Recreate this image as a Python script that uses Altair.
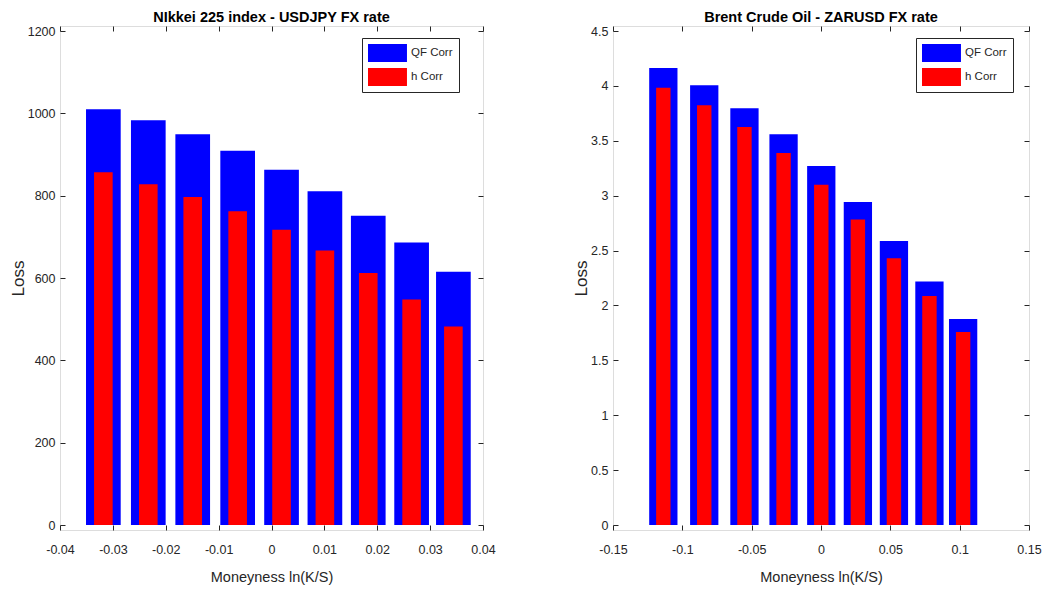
import altair as alt
import pandas as pd

# ---------------- data ----------------
series_names = ["QF Corr", "h Corr"]
series_colors = ["#0000ff", "#ff0000"]

# Nikkei 225 index - USDJPY FX rate
nk_moneyness = [-0.0318, -0.0233, -0.0149, -0.0064, 0.0019, 0.0101, 0.0183, 0.0265, 0.0344]
nk_qf = [1010, 983, 949, 909, 863, 811, 751, 686, 615]
nk_h = [857, 828, 797, 762, 717, 667, 612, 548, 482]
nk_xticks = [-0.04, -0.03, -0.02, -0.01, 0, 0.01, 0.02, 0.03, 0.04]
nk_yticks = [0, 200, 400, 600, 800, 1000, 1200]

# Brent Crude Oil - ZARUSD FX rate
br_moneyness = [-0.1137, -0.0842, -0.0552, -0.0270, 0.0002, 0.0266, 0.0526, 0.0782, 0.1025]
br_qf = [4.164, 4.006, 3.796, 3.559, 3.271, 2.942, 2.587, 2.219, 1.876]
br_h = [3.982, 3.824, 3.626, 3.389, 3.100, 2.784, 2.429, 2.085, 1.757]
br_xticks = [-0.15, -0.1, -0.05, 0, 0.05, 0.1, 0.15]
br_yticks = [0, 0.5, 1, 1.5, 2, 2.5, 3, 3.5, 4, 4.5]

FONT = "Liberation Sans, Arial, sans-serif"
INK = "#262626"
SWATCH = "M-1,-1H3.33V1H-1Z"


def tick_axis(orient, values):
    return alt.Axis(orient=orient, offset=-5, values=values, labels=False, domain=False,
                    grid=False, tickSize=5, tickColor=INK, title=None, minExtent=0,
                    maxExtent=10)


def panel(title, xs, qf, h, xticks, yticks, hw_blue, hw_red, width, height, legend_x):
    rows = []
    for x, v in zip(xs, qf):
        rows.append({"m": x, "loss": v, "series": series_names[0], "k": 0})
    for x, v in zip(xs, h):
        rows.append({"m": x, "loss": v, "series": series_names[1], "k": 1})
    df = pd.DataFrame(rows)

    xscale = alt.Scale(domain=[xticks[0], xticks[-1]], nice=False, zero=False)
    yscale = alt.Scale(domain=[yticks[0], yticks[-1]], nice=False)

    base = alt.Chart(df).transform_calculate(
        hw=f"datum.k == 0 ? {hw_blue} : {hw_red}"
    ).transform_calculate(
        lo="datum.m - datum.hw", hi="datum.m + datum.hw"
    )

    bars = base.mark_bar(opacity=1).encode(
        x=alt.X("lo:Q", scale=xscale,
                axis=alt.Axis(orient="bottom", values=xticks, labelExpr="'' + datum.value",
                              ticks=False, domain=False, grid=False, labelPadding=13,
                              labelFont=FONT, labelFontSize=12.5, labelColor=INK,
                              labelFlush=False, minExtent=0,
                              title="Moneyness ln(K/S)", titleFont=FONT, titleFontSize=14.5,
                              titleFontWeight="normal", titleColor=INK, titlePadding=15)),
        x2="hi:Q",
        y=alt.Y("loss:Q", scale=yscale, stack=None,
                axis=alt.Axis(orient="left", values=yticks, labelExpr="'' + datum.value",
                              ticks=False, domain=False, grid=False, labelPadding=5,
                              labelFont=FONT, labelFontSize=12.5, labelColor=INK,
                              labelFlush=False, minExtent=0,
                              title="Loss", titleFont=FONT, titleFontSize=17,
                              titleFontWeight="normal", titleColor=INK, titlePadding=0)),
        y2=alt.datum(0),
        color=alt.Color("series:N", scale=alt.Scale(domain=series_names, range=series_colors),
                        legend=alt.Legend(orient="none", legendX=legend_x, legendY=12, title=None,
                                          symbolType=SWATCH, symbolSize=324, symbolStrokeWidth=0,
                                          symbolOpacity=1,
                                          labelFont=FONT, labelFontSize=11.5, labelColor=INK,
                                          labelOffset=25, rowPadding=6, padding=6,
                                          strokeColor=INK, fillColor="white")),
        order=alt.Order("k:Q"),
    )

    ticks_bl = base.mark_bar(opacity=0).encode(
        x=alt.X("lo:Q", scale=xscale, axis=tick_axis("bottom", xticks)),
        x2="hi:Q",
        y=alt.Y("loss:Q", scale=yscale, stack=None, axis=tick_axis("left", yticks)),
    )

    ticks_tr = base.mark_bar(opacity=0).encode(
        x=alt.X("lo:Q", scale=xscale, axis=tick_axis("top", xticks)),
        x2="hi:Q",
        y=alt.Y("loss:Q", scale=yscale, stack=None, axis=tick_axis("right", yticks)),
    )

    return alt.layer(bars, ticks_bl, ticks_tr).resolve_axis(
        x="independent", y="independent"
    ).properties(
        width=width, height=height,
        title=alt.TitleParams(title, font=FONT, fontSize=14.5, fontWeight="bold",
                              color="#000000", anchor="middle", frame="group",
                              baseline="alphabetic", offset=-11),
    )


left = panel("NIkkei 225 index - USDJPY FX rate", nk_moneyness, nk_qf, nk_h,
             nk_xticks, nk_yticks, 0.00328, 0.00176, 423, 504, 302)
right = panel("Brent Crude Oil - ZARUSD FX rate", br_moneyness, br_qf, br_h,
              br_xticks, br_yticks, 0.0102, 0.0052, 416, 504, 303)

chart = alt.hconcat(left, right, spacing=76).resolve_scale(
    color="independent"
).resolve_legend(color="independent").properties(
    padding={"left": 0, "top": 0, "right": 0, "bottom": 0}
).configure_view(stroke=INK, strokeWidth=1).configure(background="white")

chart.save("out.html", embed_options={"renderer": "svg", "actions": False})
